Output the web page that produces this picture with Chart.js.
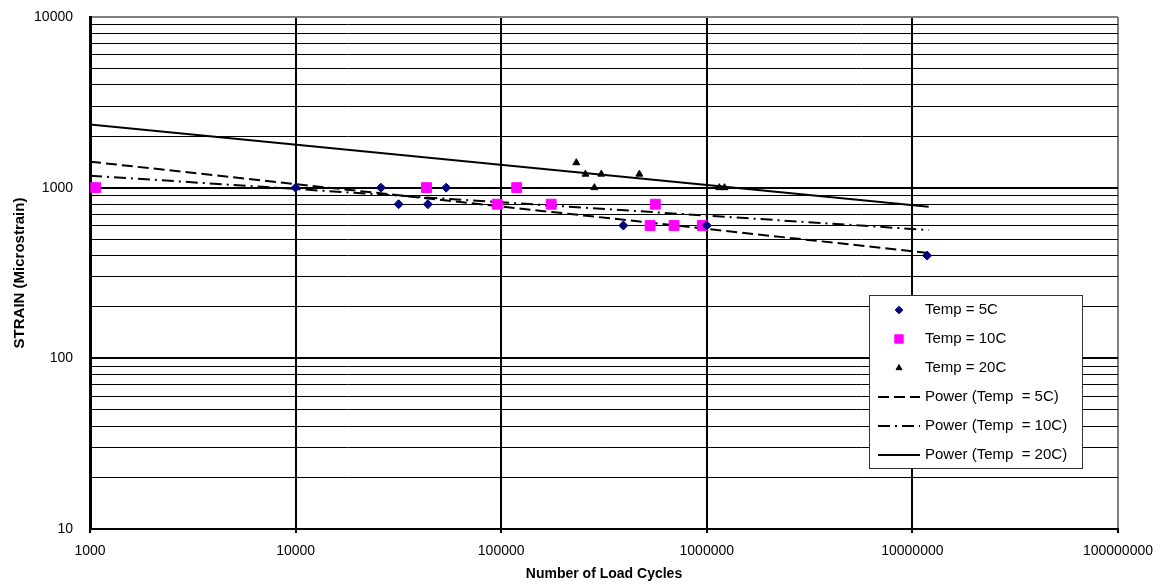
<!DOCTYPE html>
<html>
<head>
<meta charset="utf-8">
<title>Strain vs Number of Load Cycles</title>
<script src="https://cdn.jsdelivr.net/npm/chart.js@4.4.1/dist/chart.umd.min.js"></script>
<style>
  html, body { margin: 0; padding: 0; background: #fff; }
  canvas { display: block; }
</style>
</head>
<body>
<canvas id="chart" width="1163" height="586"></canvas>
<script>
const cycles5C = [10000, 26000, 31700, 44000, 54000, 393000, 1000000, 11800000];
const strain5C = [1000, 1000, 800, 800, 1000, 600, 600, 400];

const cycles10C = [1066, 43300, 95700, 119000, 175000, 530000, 562000, 693000, 952000];
const strain10C = [1000, 1000, 800, 1000, 800, 600, 800, 600, 600];

const cycles20C = [232000, 257000, 284000, 307000, 470000, 1150000, 1220000];
const strain20C = [1400, 1200, 1000, 1200, 1200, 1000, 1000];

// power trendlines are straight on log-log, so the two end points are enough
const trendCycles = [1000, 12000000];
const trend5C = [1420, 414];
const trend10C = [1176, 565];
const trend20C = [2344, 773];

const xTickValues = [1000, 10000, 100000, 1000000, 10000000, 100000000];
const yTickValues = [10, 100, 1000, 10000];

const FONT = '"Liberation Sans", Arial, sans-serif';

const pts = (xs, ys) => xs.map((x, i) => ({ x: x, y: ys[i] }));

// legend box drawn inside the plot, like the excel one
const boxLegend = {
  id: 'boxLegend',
  afterDraw(chart) {
    const ctx = chart.ctx;
    const left = 869, top = 295, w = 213, h = 173;
    ctx.save();
    ctx.fillStyle = '#fff';
    ctx.fillRect(left, top, w, h);
    ctx.strokeStyle = '#333';
    ctx.lineWidth = 1;
    ctx.strokeRect(left + 0.5, top + 0.5, w, h);
    ctx.font = '15px ' + FONT;
    ctx.textBaseline = 'middle';
    ctx.textAlign = 'left';
    chart.data.datasets.forEach((ds, i) => {
      const y = top + 15 + i * 29;
      if (ds.showLine) {
        ctx.strokeStyle = ds.borderColor;
        ctx.lineWidth = ds.borderWidth;
        ctx.setLineDash(ds.borderDash || []);
        ctx.beginPath();
        ctx.moveTo(left + 9, y);
        ctx.lineTo(left + 51, y);
        ctx.stroke();
        ctx.setLineDash([]);
      } else {
        ctx.fillStyle = ds.backgroundColor;
        ctx.strokeStyle = ds.borderColor;
        ctx.lineWidth = 1;
        Chart.helpers.drawPoint(ctx, {
          pointStyle: ds.pointStyle,
          radius: ds.pointRadius * 0.85,
          borderWidth: 1,
          rotation: 0
        }, left + 30, y);
      }
      ctx.fillStyle = '#000';
      ctx.fillText(ds.label, left + 56, y);
    });
    ctx.restore();
  }
};

new Chart(document.getElementById('chart').getContext('2d'), {
  type: 'scatter',
  data: {
    datasets: [
      {
        label: 'Temp = 5C',
        data: pts(cycles5C, strain5C),
        pointStyle: 'rectRot',
        pointRadius: 4.5,
        backgroundColor: '#000080',
        borderColor: '#000080',
        borderWidth: 1,
        showLine: false
      },
      {
        label: 'Temp = 10C',
        data: pts(cycles10C, strain10C),
        pointStyle: 'rect',
        pointRadius: 7,
        backgroundColor: '#FF00FF',
        borderColor: '#FF00FF',
        borderWidth: 1,
        showLine: false
      },
      {
        label: 'Temp = 20C',
        data: pts(cycles20C, strain20C),
        pointStyle: 'triangle',
        pointRadius: 4,
        backgroundColor: '#000',
        borderColor: '#000',
        borderWidth: 1,
        showLine: false
      },
      {
        label: 'Power (Temp  = 5C)',
        data: pts(trendCycles, trend5C),
        showLine: true,
        pointRadius: 0,
        borderColor: '#000',
        borderWidth: 2,
        borderDash: [11, 5]
      },
      {
        label: 'Power (Temp  = 10C)',
        data: pts(trendCycles, trend10C),
        showLine: true,
        pointRadius: 0,
        borderColor: '#000',
        borderWidth: 2,
        borderDash: [12, 5, 2, 5]
      },
      {
        label: 'Power (Temp  = 20C)',
        data: pts(trendCycles, trend20C),
        showLine: true,
        pointRadius: 0,
        borderColor: '#000',
        borderWidth: 2
      }
    ]
  },
  options: {
    responsive: false,
    animation: false,
    layout: { padding: { top: 17, right: 44, left: 0, bottom: 0 } },
    plugins: {
      legend: { display: false },
      tooltip: { enabled: false }
    },
    scales: {
      x: {
        type: 'logarithmic',
        min: 1000,
        max: 100000000,
        afterBuildTicks: (s) => { s.ticks = xTickValues.map((v) => ({ value: v })); },
        afterFit: (s) => { s.height = 57; },
        ticks: {
          autoSkip: false,
          maxRotation: 0,
          padding: 10,
          color: '#000',
          font: { family: FONT, size: 14 },
          callback: (v) => String(v)
        },
        grid: {
          color: (c) => (c.tick && c.tick.value === 100000000 ? '#808080' : '#000'),
          lineWidth: 2,
          tickLength: 4,
          tickColor: '#000',
          tickWidth: 2
        },
        border: { color: '#000', width: 2 },
        title: {
          display: true,
          text: 'Number of Load Cycles',
          color: '#000',
          font: { family: FONT, size: 14, weight: 'bold' },
          padding: { top: 0, bottom: 3 }
        }
      },
      y: {
        type: 'logarithmic',
        min: 10,
        max: 10000,
        afterBuildTicks: (s) => {
          const t = [];
          yTickValues.forEach((d, i) => {
            t.push({ value: d });
            if (i < yTickValues.length - 1) {
              for (let k = 2; k <= 9; k++) t.push({ value: d * k });
            }
          });
          s.ticks = t;
        },
        afterFit: (s) => {
          s.width = 90;
          s.paddingTop = 0;
          s.paddingBottom = 0;
        },
        ticks: {
          autoSkip: false,
          padding: 17,
          color: '#000',
          font: { family: FONT, size: 14 },
          callback: (v) => (yTickValues.includes(v) ? String(v) : '')
        },
        grid: {
          color: (c) => (c.tick && c.tick.value === 10000 ? '#808080' : '#000'),
          lineWidth: (c) => (c.tick && yTickValues.includes(c.tick.value) ? 2 : 1),
          drawTicks: false
        },
        border: { color: '#000', width: 3 },
        title: {
          display: true,
          text: 'STRAIN (Microstrain)',
          color: '#000',
          font: { family: FONT, size: 15, weight: 'bold' },
          padding: { top: 11, bottom: 0 }
        }
      }
    }
  },
  plugins: [boxLegend]
});
</script>
</body>
</html>
